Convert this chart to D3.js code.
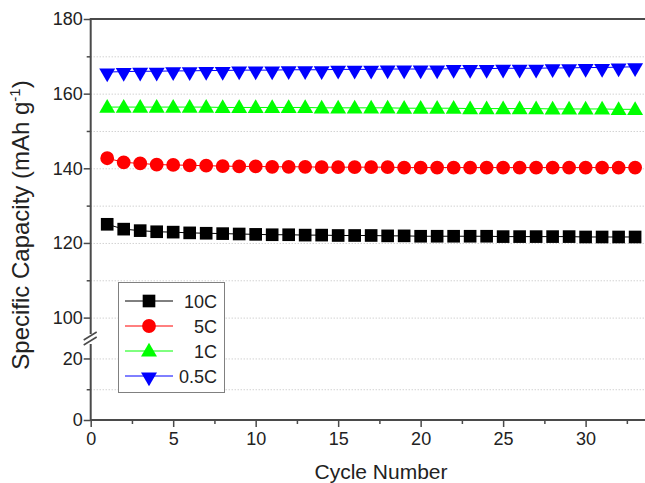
<!DOCTYPE html>
<html>
<head>
<meta charset="utf-8">
<script src="https://cdn.jsdelivr.net/npm/d3@7"></script>
<style>
  html, body { margin: 0; padding: 0; background: #fff; }
  svg { display: block; font-family: "Liberation Sans", Arial, sans-serif; }
</style>
</head>
<body>
<svg id="chart" width="645" height="483"></svg>
<script>
// ── Rate capability chart ────────────────────────────────────────────
(function () {
    'use strict';

    const cycles = d3.range(1, 34);

    const cap10C = [125.0, 123.7, 123.3, 123.0, 122.9, 122.7, 122.6, 122.5, 122.4, 122.3,
                    122.2, 122.2, 122.1, 122.1, 122.0, 122.0, 122.0, 121.9, 121.9, 121.8,
                    121.8, 121.8, 121.8, 121.8, 121.7, 121.7, 121.7, 121.7, 121.7, 121.6,
                    121.6, 121.6, 121.6];
    const cap5C  = [142.7, 141.6, 141.3, 141.0, 140.9, 140.8, 140.7, 140.6, 140.5, 140.5,
                    140.4, 140.4, 140.4, 140.3, 140.3, 140.3, 140.3, 140.3, 140.2, 140.2,
                    140.2, 140.2, 140.2, 140.2, 140.2, 140.2, 140.2, 140.2, 140.2, 140.2,
                    140.2, 140.2, 140.2];
    const cap1C  = [156.4, 156.4, 156.4, 156.4, 156.4, 156.4, 156.4, 156.3, 156.3, 156.3,
                    156.3, 156.3, 156.3, 156.2, 156.2, 156.2, 156.2, 156.2, 156.1, 156.1,
                    156.1, 156.1, 156.0, 156.0, 156.0, 156.0, 156.0, 155.9, 155.9, 155.9,
                    155.9, 155.8, 155.8];
    const cap05C = [165.8, 165.9, 166.0, 166.0, 166.1, 166.1, 166.2, 166.2, 166.3, 166.3,
                    166.3, 166.4, 166.4, 166.4, 166.5, 166.5, 166.5, 166.6, 166.6, 166.6,
                    166.6, 166.7, 166.7, 166.7, 166.8, 166.8, 166.8, 166.9, 166.9, 167.0,
                    167.0, 167.1, 167.2];

    const seriesNames  = ['10C', '5C', '1C', '0.5C'];
    const seriesValues = [cap10C, cap5C, cap1C, cap05C];
    const seriesColors = ['#000000', '#ff0000', '#00ff00', '#0000ff'];
    const seriesSymbols = ['square', 'circle', 'up', 'down'];

    const xTicks = [0, 5, 10, 15, 20, 25, 30];
    const xMinor = [2.5, 7.5, 12.5, 17.5, 22.5, 27.5, 32.5];
    const yUpTicks = [100, 120, 140, 160, 180];
    const yUpMinor = [110, 130, 150, 170];
    const yLoTicks = [0, 20];
    const yLoMinor = [10];

    const svg = d3.select('#chart');

    // scales: x plus a broken y axis (upper and lower segment)
    const x = d3.scaleLinear().domain([0, 33.6]).range([90.7, 645]);
    const yUp = d3.scaleLinear().domain([94, 180]).range([340, 19]);
    const yLo = d3.scaleLinear().domain([0, 26]).range([420, 340]);

    const axisColor = '#4a4a4a';
    const x0 = x(0);

    // dotted grid lines
    const grid = svg.append('g');
    [[yUp, yUpTicks.concat(yUpMinor).filter(v => v < 180)], [yLo, yLoTicks.concat(yLoMinor).filter(v => v > 0)]]
        .forEach(function (p) {
            grid.selectAll(null).data(p[1]).enter().append('line')
                .attr('x1', x0).attr('x2', 645)
                .attr('y1', d => p[0](d) + 0.5).attr('y2', d => p[0](d) + 0.5)
                .attr('stroke', '#bdbdbd').attr('stroke-width', 1)
                .attr('stroke-dasharray', '1,2');
        });

    // axes
    const fontSize = 18;
    function styleAxis(g) {
        g.select('.domain').remove();
        g.selectAll('.tick line').attr('stroke', axisColor).attr('stroke-width', 1.5);
        g.selectAll('.tick text').attr('fill', '#222').attr('font-size', fontSize)
            .attr('font-family', '"Liberation Sans", Arial, sans-serif');
    }

    svg.append('g').attr('transform', 'translate(0,420)')
        .call(d3.axisBottom(x).tickValues(xTicks).tickFormat(d3.format('d')).tickSizeOuter(0).tickSize(7).tickPadding(5))
        .call(styleAxis);
    svg.append('g').attr('transform', 'translate(0,420)')
        .call(d3.axisBottom(x).tickValues(xMinor).tickFormat('').tickSize(4))
        .call(styleAxis);

    svg.append('g').attr('transform', `translate(${x0},0)`)
        .call(d3.axisLeft(yUp).tickValues(yUpTicks).tickFormat(d3.format('d')).tickSize(7).tickPadding(1))
        .call(styleAxis);
    svg.append('g').attr('transform', `translate(${x0},0)`)
        .call(d3.axisLeft(yUp).tickValues(yUpMinor).tickFormat('').tickSize(4))
        .call(styleAxis);
    svg.append('g').attr('transform', `translate(${x0},0)`)
        .call(d3.axisLeft(yLo).tickValues(yLoTicks).tickFormat(d3.format('d')).tickSize(7).tickPadding(1))
        .call(styleAxis);
    svg.append('g').attr('transform', `translate(${x0},0)`)
        .call(d3.axisLeft(yLo).tickValues(yLoMinor).tickFormat('').tickSize(4))
        .call(styleAxis);

    // axis lines with the break marks
    const frame = svg.append('g').attr('stroke', axisColor).attr('stroke-width', 2).attr('fill', 'none');
    frame.append('line').attr('x1', x0).attr('x2', 645).attr('y1', yUp(180)).attr('y2', yUp(180));
    frame.append('line').attr('x1', x0).attr('x2', 645).attr('y1', yLo(0)).attr('y2', yLo(0));
    frame.append('line').attr('x1', x0).attr('x2', x0).attr('y1', yUp(180) - 1).attr('y2', 334);
    frame.append('line').attr('x1', x0).attr('x2', x0).attr('y1', 344).attr('y2', yLo(0) + 1);
    [0, 5].forEach(function (o) {
        frame.append('line').attr('stroke-width', 1.5)
            .attr('x1', x0 - 7).attr('y1', 340 + o).attr('x2', x0 + 6).attr('y2', 332 + o);
    });

    // symbols
    const symType = {
        square: d3.symbolSquare, circle: d3.symbolCircle,
        up: d3.symbolTriangle, down: d3.symbolTriangle
    };
    const symSize = { square: 160, circle: 150, up: 110, down: 110 };
    function drawSymbol(g, kind, color) {
        g.append('path')
            .attr('d', d3.symbol().type(symType[kind]).size(symSize[kind])())
            .attr('transform', kind === 'down' ? 'rotate(180) translate(0,-1)' : (kind === 'up' ? 'translate(0,1)' : null))
            .attr('fill', color);
    }

    const line = d3.line().x((d, i) => x(cycles[i])).y(d => yUp(d));

    seriesValues.forEach(function (vals, s) {
        const g = svg.append('g');
        g.append('path').datum(vals).attr('d', line)
            .attr('fill', 'none').attr('stroke', seriesColors[s]).attr('stroke-width', 1);
        g.selectAll('g.pt').data(vals).enter().append('g')
            .attr('class', 'pt')
            .attr('transform', (d, i) => `translate(${x(cycles[i])},${yUp(d)})`)
            .each(function () { drawSymbol(d3.select(this), seriesSymbols[s], seriesColors[s]); });
    });

    // legend
    const lg = svg.append('g');
    lg.append('rect').attr('x', 118.5).attr('y', 282.5).attr('width', 106).attr('height', 110)
        .attr('fill', '#fff').attr('stroke', '#808080').attr('stroke-width', 1);
    seriesNames.forEach(function (name, s) {
        const yy = 301 + s * 25;
        lg.append('line').attr('x1', 125).attr('x2', 173).attr('y1', yy).attr('y2', yy)
            .attr('stroke', seriesColors[s]).attr('stroke-width', 1);
        drawSymbol(lg.append('g').attr('transform', `translate(149,${yy})`), seriesSymbols[s], seriesColors[s]);
        lg.append('text').attr('x', 217).attr('y', yy + 6.5).attr('text-anchor', 'end')
            .attr('font-size', 18).attr('fill', '#222').text(name);
    });

    // axis titles
    svg.append('text').attr('x', 381).attr('y', 479).attr('text-anchor', 'middle')
        .attr('font-size', 21).attr('fill', '#222').text('Cycle Number');

    const yt = svg.append('text').attr('transform', 'translate(29,225) rotate(-90)')
        .attr('text-anchor', 'middle').attr('font-size', 24).attr('fill', '#222');
    yt.append('tspan').text('Specific Capacity (mAh g');
    yt.append('tspan').attr('dy', -9).attr('font-size', 15).text('-1');
    yt.append('tspan').attr('dy', 9).text(')');
})();
</script>
</body>
</html>
